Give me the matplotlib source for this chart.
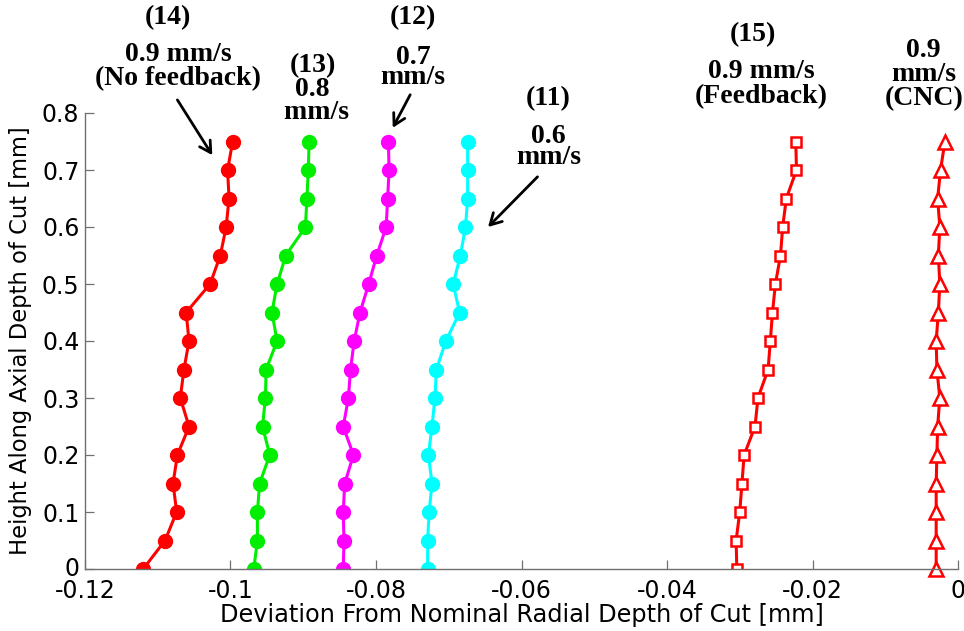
import matplotlib
matplotlib.use("Agg")
import matplotlib.pyplot as plt
import matplotlib.transforms as mtransforms
import numpy as np

# ---------------- data ----------------
heights = [0.00, 0.05, 0.10, 0.15, 0.20, 0.25, 0.30, 0.35,
           0.40, 0.45, 0.50, 0.55, 0.60, 0.65, 0.70, 0.75]

# (14) 0.9 mm/s, no feedback
dev_14 = [-0.1120, -0.1090, -0.1074, -0.1079, -0.1073, -0.1057, -0.1069, -0.1064,
          -0.1057, -0.1061, -0.1028, -0.1014, -0.1006, -0.1002, -0.1004, -0.0997]
# (13) 0.8 mm/s
dev_13 = [-0.0968, -0.0963, -0.0963, -0.0960, -0.0946, -0.0956, -0.0952, -0.0951,
          -0.0936, -0.0943, -0.0936, -0.0924, -0.0897, -0.0895, -0.0893, -0.0892]
# (12) 0.7 mm/s
dev_12 = [-0.0845, -0.0844, -0.0845, -0.0843, -0.0831, -0.0845, -0.0838, -0.0835,
          -0.0830, -0.0822, -0.0810, -0.0799, -0.0786, -0.0784, -0.0782, -0.0783]
# (11) 0.6 mm/s
dev_11 = [-0.0729, -0.0729, -0.0727, -0.0723, -0.0728, -0.0723, -0.0719, -0.0717,
          -0.0704, -0.0685, -0.0694, -0.0684, -0.0677, -0.0674, -0.0674, -0.0674]
# (15) 0.9 mm/s, feedback
dev_15 = [-0.0304, -0.0305, -0.0300, -0.0297, -0.0294, -0.0279, -0.0275, -0.0261,
          -0.0258, -0.0255, -0.0251, -0.0244, -0.0241, -0.0236, -0.0222, -0.0223]
# 0.9 mm/s CNC
dev_cnc = [-0.0030, -0.0030, -0.0030, -0.0030, -0.0029, -0.0028, -0.0025, -0.0029,
           -0.0030, -0.0027, -0.0025, -0.0027, -0.0025, -0.0028, -0.0024, -0.0018]

x_ticks = [-0.12, -0.1, -0.08, -0.06, -0.04, -0.02, 0]
x_tick_labels = ["-0.12", "-0.1", "-0.08", "-0.06", "-0.04", "-0.02", "0"]
y_ticks = [0, 0.1, 0.2, 0.3, 0.4, 0.5, 0.6, 0.7, 0.8]
y_tick_labels = ["0", "0.1", "0.2", "0.3", "0.4", "0.5", "0.6", "0.7", "0.8"]

# ---------------- figure ----------------
fig = plt.figure(figsize=(9.64, 6.31), dpi=100)
ax = fig.add_axes([85/964, 62/631, 873/964, 456/631])

sans = "DejaVu Sans"
serif = "Liberation Serif"

filled = dict(marker="o", markersize=10, linewidth=2.2)
ax.plot(dev_14, heights, color="#ff0000", markerfacecolor="#ff0000",
        markeredgecolor="#ff0000", **filled)
ax.plot(dev_13, heights, color="#00ee00", markerfacecolor="#00ee00",
        markeredgecolor="#00ee00", **filled)
ax.plot(dev_12, heights, color="#ff00ff", markerfacecolor="#ff00ff",
        markeredgecolor="#ff00ff", **filled)
ax.plot(dev_11, heights, color="#00ffff", markerfacecolor="#00ffff",
        markeredgecolor="#00ffff", **filled)
ax.plot(dev_15, heights, color="#ff0000", marker="s", markersize=7,
        markerfacecolor="white", markeredgecolor="#ff0000",
        markeredgewidth=1.8, linewidth=2.2)
ax.plot(dev_cnc, heights, color="#ff0000", marker="^", markersize=10,
        markerfacecolor="white", markeredgecolor="#ff0000",
        markeredgewidth=1.8, linewidth=2.2, clip_on=False)

ax.set_xlim(-0.12, 0)
ax.set_ylim(0, 0.8)
ax.set_xticks(x_ticks)
ax.set_xticklabels(x_tick_labels, fontfamily=sans, fontsize=17)
ax.set_yticks(y_ticks)
ax.set_yticklabels(y_tick_labels, fontfamily=sans, fontsize=17)
ax.tick_params(direction="in", length=6.5, width=0.9, color="#707070",
               labelcolor="black")
ax.tick_params(axis="x", pad=7)
ax.tick_params(axis="y", pad=4)

# nudge the corner "0" label up slightly so it does not collide with "-0.12"
zero_label = ax.yaxis.get_majorticklabels()[0]
zero_label.set_transform(zero_label.get_transform() +
                         mtransforms.ScaledTranslation(0, 3/100, fig.dpi_scale_trans))

for s in ["top", "right"]:
    ax.spines[s].set_visible(False)
for s in ["left", "bottom"]:
    ax.spines[s].set_color("#707070")
    ax.spines[s].set_linewidth(1.0)

ax.set_xlabel("Deviation From Nominal Radial Depth of Cut [mm]",
              fontfamily=sans, fontsize=17.3, labelpad=0)
ax.set_ylabel("Height Along Axial Depth of Cut [mm]",
              fontfamily=sans, fontsize=16.3, labelpad=7)

# ---------------- annotations ----------------
tkw = dict(fontfamily=serif, fontweight="bold", fontsize=20, ha="center",
           va="center", multialignment="center", clip_on=False)
akw = dict(arrowstyle="->,head_length=0.8,head_width=0.45", color="black",
           lw=2.0, shrinkA=0, shrinkB=0)

# (14)
ax.text(-0.1086, 0.968, "(14)", **tkw)
ax.text(-0.1072, 0.882, "0.9 mm/s\n(No feedback)", linespacing=0.95, **tkw)
ax.annotate("", xy=(-0.1025, 0.726), xytext=(-0.1073, 0.823),
            arrowprops=akw, annotation_clip=False)

# (13)
ax.text(-0.0887, 0.842, "(13)\n0.8\n mm/s", linespacing=0.92, **tkw)

# (12)
ax.text(-0.0749, 0.967, "(12)", **tkw)
ax.text(-0.0749, 0.880, "0.7\nmm/s", linespacing=0.76, **tkw)
ax.annotate("", xy=(-0.0777, 0.774), xytext=(-0.0753, 0.832),
            arrowprops=akw, annotation_clip=False)

# (11)
ax.text(-0.0563, 0.826, "(11)", **tkw)
ax.text(-0.0563, 0.740, "0.6\nmm/s", linespacing=0.76, **tkw)
ax.annotate("", xy=(-0.0646, 0.600), xytext=(-0.0578, 0.688),
            arrowprops=akw, annotation_clip=False)

# (15)
ax.text(-0.0282, 0.937, "(15)", **tkw)
ax.text(-0.0270, 0.850, "0.9 mm/s\n(Feedback)", linespacing=1.0, **tkw)

# CNC
ax.text(-0.0047, 0.868, "0.9\nmm/s\n(CNC)", linespacing=0.95, **tkw)

fig.savefig("out.png", dpi=100, facecolor="white")
